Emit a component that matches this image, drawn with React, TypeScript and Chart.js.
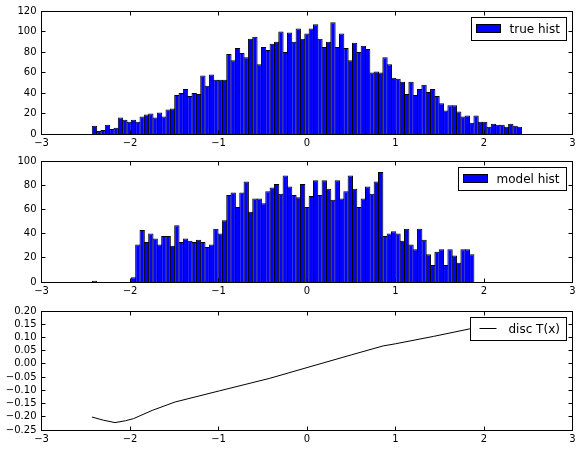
import React, { useEffect, useRef } from 'react';
import { Chart, registerables } from 'chart.js';

Chart.register(...registerables);

// ---- data ----
const X_MIN = -3;
const X_MAX = 3;
const BIN_START = -2.426;
const BIN_WIDTH = 0.049;

const TRUE_COUNTS = [
  8, 3, 4, 9, 5, 6, 16, 14, 12, 14,
  12, 17, 19, 20, 16, 21, 17, 24, 25, 38,
  40, 44, 37, 40, 39, 57, 47, 58, 53, 53,
  53, 78, 72, 84, 79, 75, 93, 95, 68, 85,
  82, 88, 90, 100, 80, 99, 90, 103, 93, 98,
  103, 107, 93, 85, 90, 109, 85, 98, 84, 72,
  89, 80, 86, 83, 60, 61, 60, 75, 68, 55,
  54, 51, 39, 51, 38, 44, 48, 41, 44, 37,
  30, 23, 28, 28, 22, 17, 18, 11, 18, 12,
  12, 7, 10, 9, 9, 7, 10, 8, 7,
];

const MODEL_COUNTS = [
  1, 0, 0, 0, 0, 0, 0, 0, 0,
  4, 31, 43, 33, 40, 36, 31, 38, 38, 30,
  47, 33, 36, 34, 33, 35, 33, 29, 31, 44,
  40, 51, 72, 74, 62, 74, 83, 58, 69, 69,
  65, 75, 78, 81, 73, 88, 79, 72, 70, 81,
  62, 71, 84, 72, 84, 77, 68, 84, 69, 75,
  88, 77, 62, 69, 79, 73, 83, 91, 38, 40,
  42, 40, 34, 44, 31, 27, 44, 35, 23, 14,
  25, 27, 14, 27, 22, 16, 27, 27, 23,
  0, 0, 0, 0, 0, 0, 0, 0, 0, 0, 0,
];

const DISC_X = [-2.43, -2.3, -2.17, -2.05, -1.96, -1.75, -1.49, -0.99, -0.42, 0.0, 0.5, 0.86, 1.0, 1.43, 1.84, 2.42];
const DISC_Y = [-0.201, -0.213, -0.222, -0.215, -0.207, -0.176, -0.144, -0.102, -0.0545, -0.014, 0.034, 0.068, 0.076, 0.104, 0.1325, 0.17];

const TRUE_LABEL = 'true hist';
const MODEL_LABEL = 'model hist';
const DISC_LABEL = 'disc T(x)';

// ---- styling ----
const FONT = "'DejaVu Sans', 'Bitstream Vera Sans', sans-serif";
const BAR_BLUE = '#0000ff';
const minus = (s: string) => s.replace(/-/g, '\u2212');

const framePlugin = {
  id: 'mplFrame',
  afterDraw(chart: any, _args: any, opts: any) {
    const { ctx, chartArea: a, scales } = chart;
    const h = (v: number) => Math.floor(v) + 0.5;
    ctx.save();
    ctx.strokeStyle = '#000';
    ctx.lineWidth = 1;
    const seg = (x1: number, y1: number, x2: number, y2: number) => {
      ctx.beginPath();
      ctx.moveTo(x1, y1);
      ctx.lineTo(x2, y2);
      ctx.stroke();
    };
    const L = 4;
    const left = h(a.left), right = h(a.right), top = h(a.top), bottom = h(a.bottom);
    scales.x.ticks.forEach((t: any) => {
      const px = h(scales.x.getPixelForValue(t.value));
      seg(px, bottom, px, bottom - L);
      seg(px, top, px, top + L);
    });
    scales.y.ticks.forEach((t: any) => {
      const py = h(scales.y.getPixelForValue(t.value));
      seg(left, py, left + L, py);
      seg(right, py, right - L, py);
    });
    ctx.strokeRect(left, top, right - left, bottom - top);

    if (opts && opts.label) {
      ctx.font = `12px ${FONT}`;
      const tw = ctx.measureText(opts.label).width;
      const w = Math.round(38 + tw + 6.5);
      const bh = 23;
      const bx = h(a.right - 6 - w);
      const by = h(a.top + 6.5);
      ctx.fillStyle = '#fff';
      ctx.fillRect(bx, by, w, bh);
      ctx.strokeRect(bx, by, w, bh);
      if (opts.kind === 'patch') {
        ctx.fillStyle = BAR_BLUE;
        ctx.fillRect(bx + 5, by + 7, 24, 8);
        ctx.strokeRect(bx + 5, by + 7, 24, 8);
      } else {
        seg(bx + 9, by + 11, bx + 26, by + 11);
      }
      ctx.fillStyle = '#000';
      ctx.textBaseline = 'middle';
      ctx.textAlign = 'left';
      ctx.fillText(opts.label, bx + 38, by + 12);
    }
    ctx.restore();
  },
};

const tickFont = { size: 10, family: FONT };

function baseOptions(opts: {
  top: number; xh: number; ymin: number; ymax: number; ystep: number;
  yfmt: (v: number) => string; label: string; kind: string;
}) {
  return {
    animation: false,
    responsive: false,
    maintainAspectRatio: false,
    devicePixelRatio: 1,
    events: [],
    layout: { padding: { left: 0, right: 9.5, top: opts.top, bottom: 0 } },
    plugins: {
      legend: { display: false },
      tooltip: { enabled: false },
      mplFrame: { label: opts.label, kind: opts.kind },
    },
    scales: {
      x: {
        type: 'linear',
        min: X_MIN,
        max: X_MAX,
        offset: false,
        grid: { display: false, drawTicks: false, tickLength: 0, offset: false },
        border: { display: false },
        ticks: {
          stepSize: 1,
          padding: 3,
          color: '#000',
          font: tickFont,
          maxRotation: 0,
          autoSkip: false,
          callback: (v: any) => minus(String(v)),
        },
        afterFit: (s: any) => { s.height = opts.xh; },
      },
      y: {
        type: 'linear',
        min: opts.ymin,
        max: opts.ymax,
        grid: { display: false, drawTicks: false, tickLength: 0 },
        border: { display: false },
        ticks: {
          stepSize: opts.ystep,
          padding: 5,
          color: '#000',
          font: tickFont,
          autoSkip: false,
          callback: (v: any) => opts.yfmt(Number(v)),
        },
        afterFit: (s: any) => { s.width = 41.5; },
      },
    },
  };
}

const binCenter = (i: number) => BIN_START + (i + 0.5) * BIN_WIDTH;
const histPoints = (counts: number[]) =>
  counts.map((c, i) => ({ x: binCenter(i), y: c })).filter((p) => p.y > 0);

const barStyle = {
  backgroundColor: BAR_BLUE,
  borderColor: '#000',
  borderWidth: { left: 1, right: 1, top: 1, bottom: 0 },
  borderSkipped: false,
  barPercentage: 1.23,
  categoryPercentage: 1,
};

function useChart(ref: React.RefObject<HTMLCanvasElement>, make: () => any) {
  useEffect(() => {
    if (!ref.current) return;
    const chart = new Chart(ref.current, make());
    return () => chart.destroy();
  }, []);
}

export default function App() {
  const r1 = useRef<HTMLCanvasElement>(null);
  const r2 = useRef<HTMLCanvasElement>(null);
  const r3 = useRef<HTMLCanvasElement>(null);

  useChart(r1, () => ({
    type: 'bar',
    data: { datasets: [{ label: TRUE_LABEL, data: histPoints(TRUE_COUNTS), ...barStyle }] },
    options: baseOptions({ top: 11, xh: 16, ymin: 0, ymax: 120, ystep: 20, yfmt: (v) => String(v), label: TRUE_LABEL, kind: 'patch' }),
    plugins: [framePlugin],
  }));
  useChart(r2, () => ({
    type: 'bar',
    data: { datasets: [{ label: MODEL_LABEL, data: histPoints(MODEL_COUNTS), ...barStyle }] },
    options: baseOptions({ top: 9, xh: 18, ymin: 0, ymax: 100, ystep: 20, yfmt: (v) => String(v), label: MODEL_LABEL, kind: 'patch' }),
    plugins: [framePlugin],
  }));
  useChart(r3, () => ({
    type: 'line',
    data: {
      datasets: [{
        label: DISC_LABEL,
        data: DISC_X.map((x, i) => ({ x, y: DISC_Y[i] })),
        borderColor: '#000',
        borderWidth: 1,
        pointRadius: 0,
        tension: 0,
        fill: false,
      }],
    },
    options: baseOptions({
      top: 7.3, xh: 21, ymin: -0.25, ymax: 0.2, ystep: 0.05,
      yfmt: (v) => (Math.abs(v) < 1e-9 ? '0.00' : minus(v.toFixed(2))),
      label: DISC_LABEL, kind: 'line',
    }),
    plugins: [framePlugin],
  }));

  const cs = (top: number, height: number): React.CSSProperties => ({
    position: 'absolute', left: 0, top, width: 582, height, display: 'block',
  });

  return (
    <div style={{ position: 'absolute', left: 0, top: 0, width: 582, height: 451, background: '#fff' }}>
      <canvas ref={r1} width={582} height={150} style={cs(0, 150)} />
      <canvas ref={r2} width={582} height={150} style={cs(150, 150)} />
      <canvas ref={r3} width={582} height={151} style={cs(300, 151)} />
    </div>
  );
}
